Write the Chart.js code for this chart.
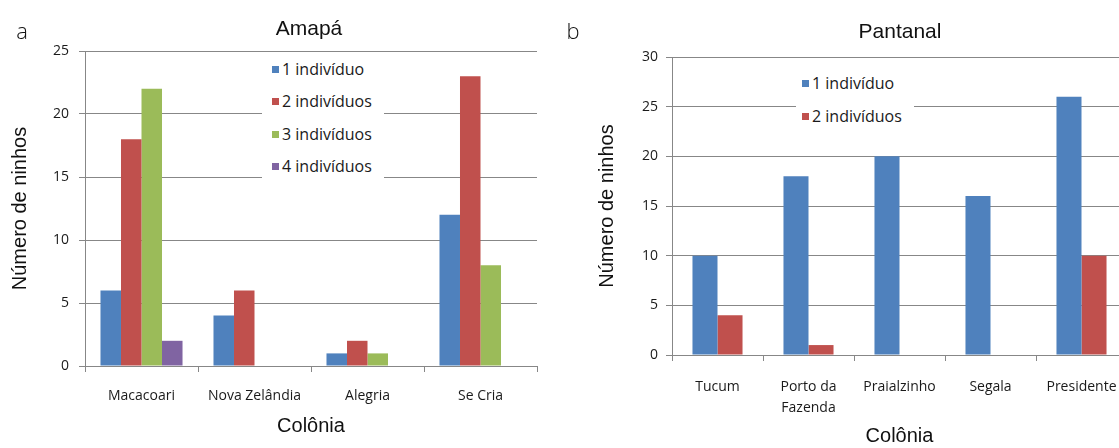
<!DOCTYPE html>
<html>
<head>
<meta charset="utf-8">
<title>Número de ninhos por colônia</title>
<script src="https://cdn.jsdelivr.net/npm/chart.js@4.4.0/dist/chart.umd.min.js"></script>
<style>
  html, body { margin: 0; padding: 0; background: #fff; overflow: hidden; }
  #wrap { position: relative; width: 1119px; height: 448px; overflow: hidden; background: #fff; }
  canvas { position: absolute; top: 0; }
  .lbl { position: absolute; transform: translate(-50%, -50%); white-space: nowrap; color: #111; }
  .panel { font-family: "Open Sans", sans-serif; font-size: 22px; font-weight: 300; }
  .ttl { font-family: "Liberation Sans", Arial, sans-serif; font-size: 21px; }
  .legend { position: absolute; background: #fff; }
  .row { position: absolute; left: 0; height: 20px; display: flex; align-items: center;
         font-family: "Open Sans", sans-serif; font-size: 16px; color: #1a1a1a; white-space: nowrap; }
  .sw { width: 7px; height: 7px; margin-right: 3px; }
</style>
</head>
<body>
<div id="wrap">
  <canvas id="amapa" width="560" height="448" style="left:0;width:560px;height:448px"></canvas>
  <canvas id="pantanal" width="580" height="448" style="left:560px;width:580px;height:448px"></canvas>
  <div class="lbl panel" style="left:22px;top:30px">a</div>
  <div class="lbl panel" style="left:573px;top:30px">b</div>
  <div class="lbl ttl" style="left:309px;top:28px">Amapá</div>
  <div class="lbl ttl" style="left:900px;top:31px">Pantanal</div>
  <div id="legA" class="legend" style="left:262px;top:55px;width:122px;height:126px"></div>
  <div id="legB" class="legend" style="left:796px;top:68px;width:118px;height:62px"></div>
</div>
<script>
// Colônias e número de ninhos por tamanho de grupo
const amapaColonies = ['Macacoari', 'Nova Zelândia', 'Alegria', 'Se Cria'];
const amapa1 = [6, 4, 1, 12];
const amapa2 = [18, 6, 2, 23];
const amapa3 = [22, 0, 1, 8];
const amapa4 = [2, 0, 0, 0];

const pantanalColonies = ['Tucum', ['Porto da', 'Fazenda'], 'Praialzinho', 'Segala', 'Presidente'];
const pantanal1 = [10, 18, 20, 16, 26];
const pantanal2 = [4, 1, 0, 0, 10];

const seriesNames = ['1 indivíduo', '2 indivíduos', '3 indivíduos', '4 indivíduos'];
const seriesColors = ['#4F81BD', '#C0504D', '#9BBB59', '#8064A2'];

const amapaMax = 25;
const pantanalMax = 30;
const tickStep = 5;

const axisGray = '#878787';
const tickFont = { family: 'Open Sans', size: 14 };
const titleFont = { family: 'Liberation Sans', size: 20 };

function datasetsFrom(seriesList) {
  return seriesList.map((values, i) => ({
    label: seriesNames[i],
    data: values,
    backgroundColor: seriesColors[i],
    borderWidth: 0
  }));
}

function buildChart(id, labels, seriesList, cfg) {
  return new Chart(document.getElementById(id), {
    type: 'bar',
    data: { labels: labels, datasets: datasetsFrom(seriesList) },
    options: {
      responsive: false,
      animation: false,
      devicePixelRatio: 1,
      layout: { padding: { left: 0, right: cfg.padRight, top: cfg.padTop, bottom: 0 } },
      plugins: { legend: { display: false }, tooltip: { enabled: false }, title: { display: false } },
      datasets: { bar: { categoryPercentage: cfg.catPct, barPercentage: 1 } },
      scales: {
        x: {
          offset: true,
          grid: { display: true, offset: true, drawOnChartArea: false, drawTicks: true, tickLength: 6, color: axisGray },
          border: { display: true, color: axisGray },
          ticks: { font: Object.assign({ lineHeight: 1.5 }, tickFont), color: '#1a1a1a', padding: cfg.xTickPad, autoSkip: false, maxRotation: 0 },
          title: { display: true, text: 'Colônia', font: titleFont, color: '#111', padding: { top: 0, bottom: cfg.xTitlePad } },
          afterFit: (s) => { s.height = cfg.xHeight; }
        },
        y: {
          min: 0,
          max: cfg.max,
          ticks: { stepSize: tickStep, font: tickFont, color: '#1a1a1a', padding: cfg.yTickPad },
          grid: { color: axisGray, tickLength: 6 },
          border: { display: true, color: axisGray },
          title: { display: true, text: 'Número de ninhos', font: titleFont, color: '#111', padding: { top: cfg.yTitlePad, bottom: 0 } },
          afterFit: (s) => { s.width = cfg.yWidth; }
        }
      }
    }
  });
}

buildChart('amapa', amapaColonies, [amapa1, amapa2, amapa3, amapa4], {
  padRight: 23, padTop: 51, catPct: 0.726, max: amapaMax,
  xHeight: 82, xTickPad: 14, xTitlePad: 10,
  yWidth: 85, yTickPad: 10, yTitlePad: 8
});

buildChart('pantanal', pantanalColonies, [pantanal1, pantanal2], {
  padRight: 13, padTop: 57, catPct: 0.55, max: pantanalMax,
  xHeight: 93, xTickPad: 16, xTitlePad: 0,
  yWidth: 112, yTickPad: 8, yTitlePad: 35
});

// Legendas com fundo branco sobre a área do gráfico
function buildLegend(id, count, swatchX, rowCenters) {
  const box = document.getElementById(id);
  for (let i = 0; i < count; i++) {
    const row = document.createElement('div');
    row.className = 'row';
    row.style.left = swatchX + 'px';
    row.style.top = (rowCenters[i] - 10) + 'px';
    const sw = document.createElement('span');
    sw.className = 'sw';
    sw.style.background = seriesColors[i];
    const txt = document.createElement('span');
    txt.textContent = seriesNames[i];
    row.appendChild(sw);
    row.appendChild(txt);
    box.appendChild(row);
  }
}
buildLegend('legA', 4, 10, [14, 46, 79, 111]);
buildLegend('legB', 2, 6, [15, 48]);
</script>
</body>
</html>
